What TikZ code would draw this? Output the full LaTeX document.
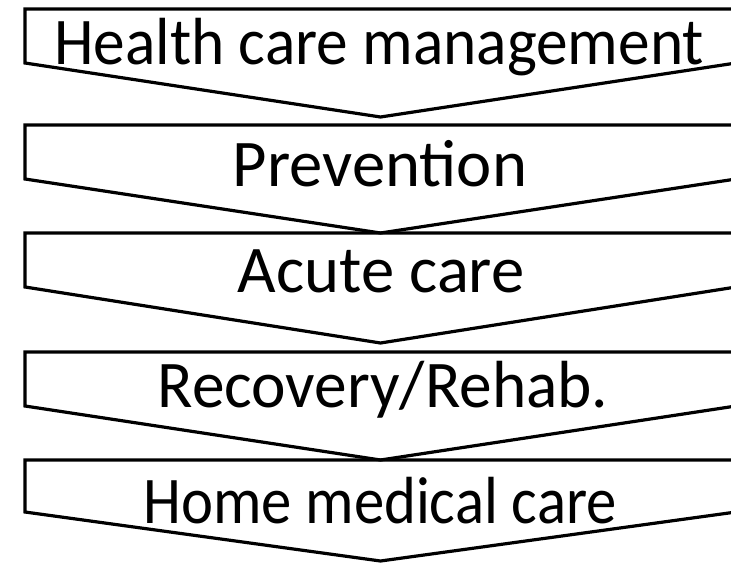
\documentclass[tikz,border=0pt]{standalone}
\usepackage{fontspec}
\usepackage{graphicx}
\setmainfont{Carlito}
\tikzset{
  chev/.style={draw=black, line width=2.4pt, line join=miter},
  lbl/.style={anchor=base, inner sep=0pt, font=\fontsize{50}{60}\selectfont}
}
\begin{document}
\begin{tikzpicture}[x=0.75pt,y=-0.75pt]
    \useasboundingbox (0,0) rectangle (731,563);
    \clip (0,0) rectangle (731,563);

    % chevrons: top / corner / point
    \foreach \t/\c/\p in {9/63/117,125/179/233,233/287/343,352/406/460,460/512/561} {
      \draw[chev] (25,\t) -- (736,\t) -- (736,\c) -- (380.5,\p) -- (25,\c) -- cycle;
    }

    \node[lbl] (hcm)   at (379,65)  {\scalebox{0.95}[1]{Health care management}};
    \node[lbl] (prev)  at (380,186) {Prevention};
    \node[lbl] (acute) at (381,292) {Acute care};
    \node[lbl] (rehab) at (383,407) {\scalebox{0.98}[1]{Recovery/Rehab.}};
    \node[lbl] (home)  at (380,523) {\scalebox{0.91}[1]{Home medical care}};
  \end{tikzpicture}
\end{document}
